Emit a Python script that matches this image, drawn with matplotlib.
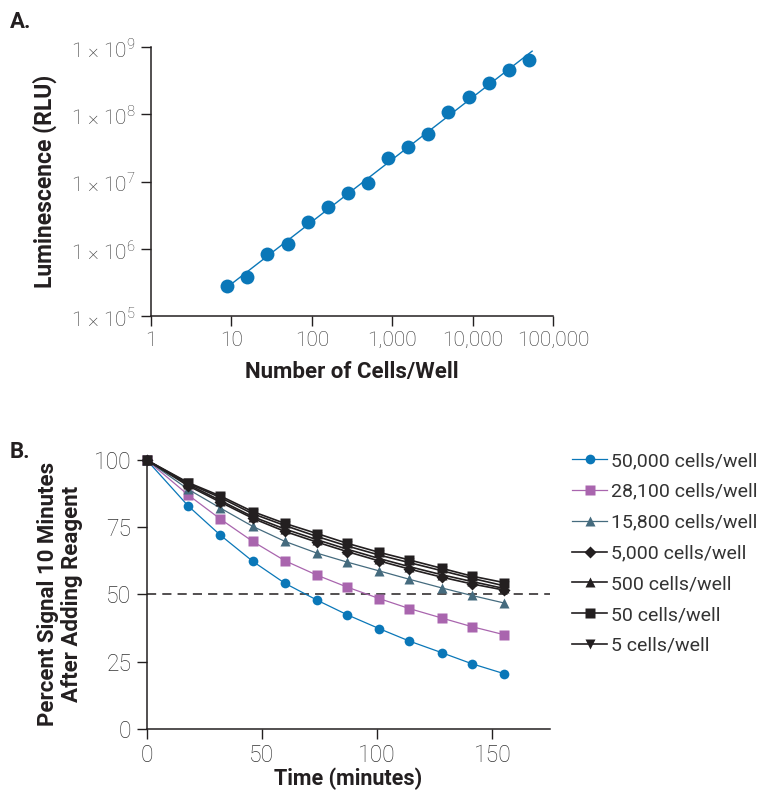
import numpy as np
import matplotlib
matplotlib.use("Agg")
import matplotlib.pyplot as plt
from matplotlib.font_manager import FontProperties
from matplotlib.ticker import FixedLocator, FixedFormatter, NullLocator

# no condensed face is installed, so Roboto bold stands in for the titles
light_font = ['Roboto', 'DejaVu Sans']
ink = '#231F20'


def title_font(size=16):
    return FontProperties(family=['Roboto', 'DejaVu Sans'], weight='bold', size=size)


# ---- panel A data: cells per well vs luminescence
cells = [8.9, 15.8, 28, 50, 89, 158, 281, 500, 890, 1580, 2810, 5000, 8900, 15800, 28100, 50000]
rlu = [2.77e5, 3.8e5, 8.3e5, 1.17e6, 2.5e6, 4.2e6, 6.8e6, 9.6e6, 2.25e7, 3.3e7,
       5.0e7, 1.09e8, 1.8e8, 2.9e8, 4.5e8, 6.4e8]
x_ticks_a = [1, 10, 100, 1000, 10000, 100000]
x_labels_a = ['1', '10', '100', '1,000', '10,000', '100,000']
y_ticks_a = [1e5, 1e6, 1e7, 1e8, 1e9]
y_labels_a = ['1 × 10$^{\\mathregular{%d}}$' % e for e in [5, 6, 7, 8, 9]]

# ---- panel B data: signal stability over time
minutes = [0, 18, 32, 46, 60, 74, 87, 101, 114, 128, 141, 155]
s50000 = [100, 82.9, 72.0, 62.3, 54.1, 47.8, 42.4, 37.2, 32.6, 28.3, 24.2, 20.5]
s28100 = [100, 87.0, 78.0, 69.7, 62.5, 57.1, 52.7, 48.4, 44.7, 41.2, 38.0, 35.0]
s15800 = [100, 89.1, 82.1, 75.3, 69.7, 65.3, 62.0, 58.7, 55.6, 52.4, 49.6, 46.8]
s5000 = [100, 90.4, 84.3, 78.3, 73.4, 69.4, 65.9, 62.4, 59.4, 56.4, 53.9, 51.6]
s500 = [100, 90.9, 84.9, 78.9, 74.3, 70.3, 66.8, 63.3, 60.3, 57.3, 54.8, 52.2]
s50 = [100, 91.6, 86.6, 80.8, 76.4, 72.6, 69.0, 65.6, 62.8, 59.7, 56.8, 54.4]
s5 = [100, 91.3, 86.0, 80.0, 75.6, 71.5, 68.0, 64.6, 61.8, 58.8, 56.0, 53.2]

series = [
    ('50,000 cells/well', s50000, '#0A77B8', 'o', 7.0, 0.9),
    ('28,100 cells/well', s28100, '#A965AE', 's', 6.8, 0.9),
    ('15,800 cells/well', s15800, '#456B7E', '^', 7.5, 0.9),
    ('5,000 cells/well', s5000, ink, 'D', 6.0, 1.2),
    ('500 cells/well', s500, ink, '^', 7.5, 1.2),
    ('50 cells/well', s50, ink, 's', 7.2, 1.2),
    ('5 cells/well', s5, ink, 'v', 7.5, 1.2),
]

fig = plt.figure(figsize=(7.64, 7.92), dpi=100)


def style_axes(ax, size):
    for side in ['top', 'right']:
        ax.spines[side].set_visible(False)
    for side in ['left', 'bottom']:
        ax.spines[side].set_color(ink)
        ax.spines[side].set_linewidth(1.1)
    ax.tick_params(direction='out', length=7, width=1.0, color=ink,
                   labelcolor='#333333', labelsize=size, pad=4)
    for lab in ax.get_xticklabels() + ax.get_yticklabels():
        lab.set_family(light_font)
        lab.set_fontweight('light')


# ---- panel A
axA = fig.add_axes([151 / 764, 1 - 316 / 792, 402 / 764, 269 / 792])
axA.set_xscale('log')
axA.set_yscale('log')
axA.set_xlim(1, 1e5)
axA.set_ylim(1e5, 1e9)

# log-log regression line through the points
k, b = np.polyfit(np.log10(cells), np.log10(rlu), 1)
xfit = np.array([min(cells), max(cells) * 1.1])
axA.plot(xfit, 10 ** (k * np.log10(xfit) + b), color='#0A77B8', lw=1.0, zorder=2)
axA.plot(cells, rlu, 'o', color='#0A77B8', ms=10, mec='none', zorder=3, clip_on=False)

axA.xaxis.set_major_locator(FixedLocator(x_ticks_a))
axA.xaxis.set_major_formatter(FixedFormatter(x_labels_a))
axA.xaxis.set_minor_locator(NullLocator())
axA.yaxis.set_major_locator(FixedLocator(y_ticks_a))
axA.yaxis.set_major_formatter(FixedFormatter(y_labels_a))
axA.yaxis.set_minor_locator(NullLocator())
style_axes(axA, 15)
axA.set_xlabel('Number of Cells/Well', fontproperties=title_font(16), color=ink, labelpad=8)
axA.set_ylabel('Luminescence (RLU)', fontproperties=title_font(16.5), color=ink, labelpad=10)

# ---- panel B
axB = fig.add_axes([146.7 / 764, 1 - 728.7 / 792, 403.3 / 764, 268.7 / 792])
axB.set_xlim(0, 175)
axB.set_ylim(0, 100)
axB.axhline(50, color=ink, lw=1.1, ls=(0, (6, 4)), zorder=1)
for label, vals, col, mk, ms, lw in series:
    axB.plot(minutes, vals, color=col, marker=mk, ms=ms, mec='none', lw=lw,
             label=label, clip_on=False, zorder=3)
axB.set_xticks([0, 50, 100, 150])
axB.set_yticks([0, 25, 50, 75, 100])
style_axes(axB, 16.5)
axB.set_xlabel('Time (minutes)', fontproperties=title_font(15.5), color=ink, labelpad=0.5)
axB.set_ylabel('Percent Signal 10 Minutes\nAfter Adding Reagent', fontproperties=title_font(16),
               color=ink, labelpad=8, linespacing=1.1)

# legend sits to the right of panel B, outside the axes
leg = axB.legend(loc='upper left', bbox_to_anchor=(1.055, 1.03),
                 frameon=False, handlelength=1.8, handletextpad=0.2,
                 labelspacing=0.66, borderpad=0, borderaxespad=0,
                 prop={'family': light_font, 'size': 14})
for t in leg.get_texts():
    t.set_color('#333333')

fig.text(10 / 764, 1 - 11 / 792, 'A.', fontproperties=title_font(16), color=ink, va='top')
fig.text(10 / 764, 1 - 441 / 792, 'B.', fontproperties=title_font(16), color=ink, va='top')

fig.savefig('out.png', dpi=100)
